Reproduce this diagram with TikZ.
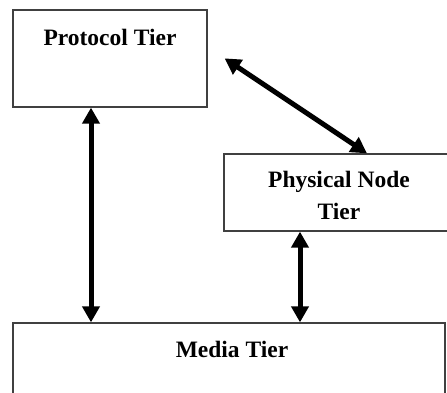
\documentclass[tikz,border=0pt]{standalone}
\usepackage{fontspec}
\setmainfont{Liberation Serif}
\usepackage{tikz}
\usetikzlibrary{arrows.meta}

\begin{document}
\begin{tikzpicture}[x=1pt, y=-1pt,
      tier/.style={draw=black!75, line width=1.3pt, rectangle, inner sep=0pt},
      tiertext/.style={font=\bfseries\fontsize{23.5}{32}\selectfont, align=center, inner sep=0pt},
      link/.style={line width=5pt, {Triangle[length=16pt, width=17pt]}-{Triangle[length=16pt, width=17pt]}}]
      \useasboundingbox (0,0) rectangle (447,392);
      \clip (0,0) rectangle (447,392);
      \fill[white] (0,0) rectangle (447,392);
      \node[tier, minimum width=194pt, minimum height=97pt] (protocol) at (110,58.5) {};
      \node[tier, minimum width=226pt, minimum height=77pt] (physical) at (337,192.5) {};
      \node[tier, minimum width=432pt, minimum height=80pt] (media) at (229,363) {};
      \node[tiertext, anchor=base] (protocoltext) at (110,45) {Protocol Tier};
      \node[tiertext] (physicaltext) at (339,195) {Physical Node\\Tier};
      \node[tiertext, anchor=base] (mediatext) at (232,357) {Media Tier};
      \draw[link] ([xshift=-19pt]protocol.south) -- ([xshift=-19pt]protocol.south |- media.north);
      \draw[link] ([xshift=-37pt]physical.south) -- ([xshift=-37pt]physical.south |- media.north);
      \draw[link] ([shift={(17pt,-49pt)}]protocol.north east) -- ([xshift=30pt]physical.north);
\end{tikzpicture}
\end{document}
